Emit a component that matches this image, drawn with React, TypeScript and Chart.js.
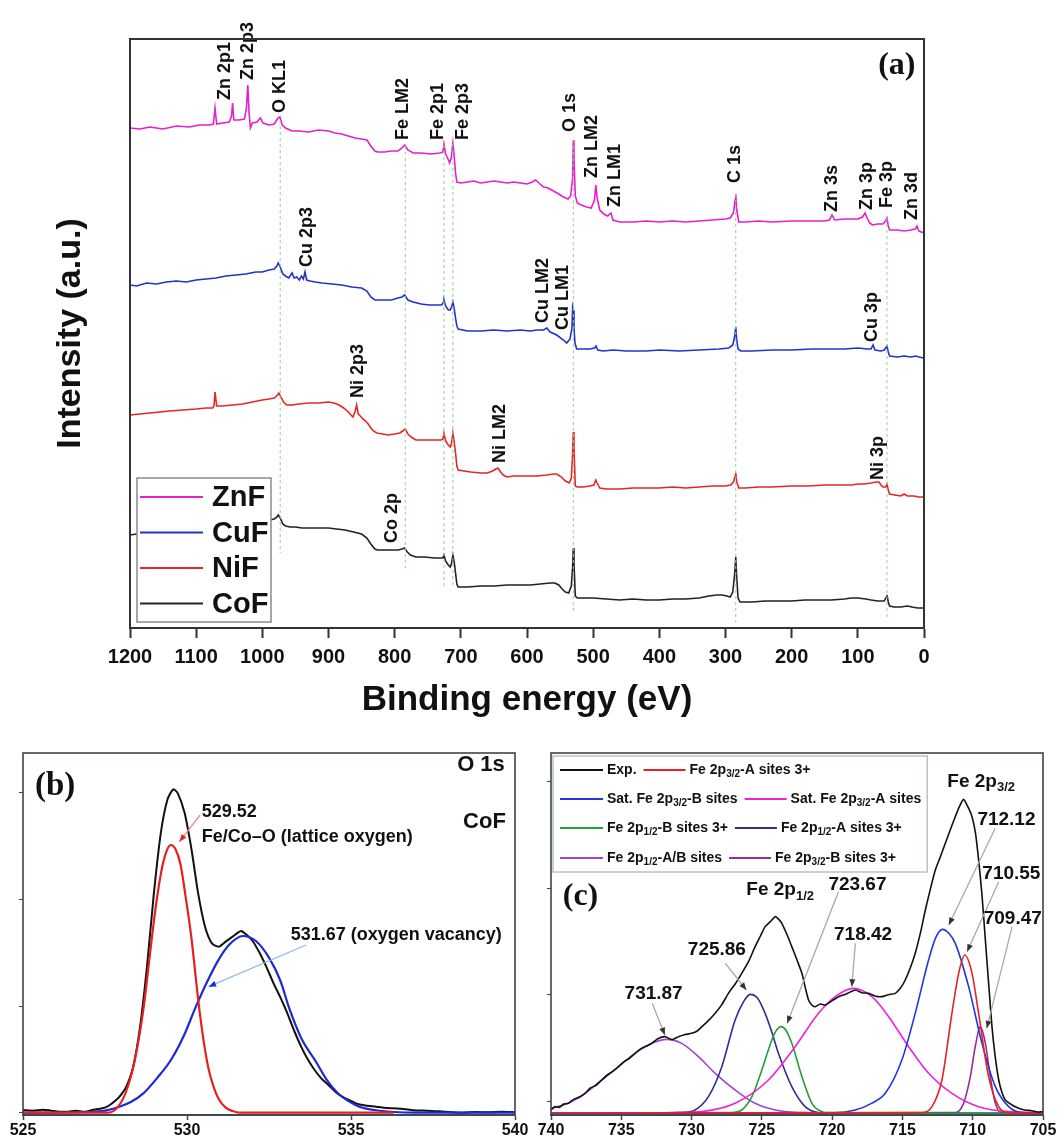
import React, { useEffect, useRef } from 'react';
import { Chart, registerables } from 'chart.js';
Chart.register(...registerables);

const SANS = '"Liberation Sans", Arial, Helvetica, sans-serif';
const SERIF = '"Liberation Serif", "Times New Roman", serif';

// ================= Panel (a): XPS survey =================
const seriesNames = ['ZnF', 'CuF', 'NiF', 'CoF'];
const seriesColors = ['#e61fce', '#2233cc', '#e62626', '#222222'];

const znfE = [1200,1185,1170,1150,1130,1110,1095,1080,1074,1071.5,1069,1060,1050,1046.5,1045,1043,1035,1027,1024,1022,1020,1018,1015,1008,1003,999,990,982,976.5,973.5,970,965,955,945,930,915,900,890,880,870,860,850,842,836,830,826,815,805,795,789,785,780,772,760,745,732,727,725.5,723,720,717,714.5,712,710,708,706,700,690,680,670,660,650,640,630,620,610,600,592,587,582,575,568,560,552,545,538,534,531,530,529,527,524,518,510,503,498,496,494,490,484,478,475,473,470,465,460,440,420,400,380,360,340,320,300,293,288,285.5,284.5,283,280,270,250,230,200,175,150,143,139,135,120,100,93,89,86,82,78,70,62,58,56,54,52,40,30,20,13,10.6,8,4,0];
const znfI = [500,499,501,499,502,501,503,503,504,520,504,505,506,512,525,508,508,509,520,543,515,500,505,506,510,505,503,504,510,511,503,500,497,497,496,498,497,495,494,492,490,489,488,482,477,476,476,477,477,480,483,478,475,475,474,475,476,484,474,470,465,470,485,472,455,446,445,446,447,445,446,447,446,445,446,445,444,446,448,445,441,440,437,434,431,429,432,450,488,470,432,425,423,421,420,428,443,430,418,414,412,414,415,408,407,406,406,407,406,407,406,407,408,409,410,415,428,434,418,406,406,407,406,407,407,407,408,413,408,409,409,411,415,410,405,403,404,404,407,410,402,398,398,397,398,399,402,397,396,395];

const cufE = [1200,1190,1175,1160,1145,1130,1115,1100,1085,1070,1055,1040,1025,1010,1000,990,982,978,976,973,969,965,960,957,955,952,948,944,941,938,935.5,933,928,920,910,895,880,865,850,842,836,830,820,805,795,789,785,780,772,760,748,735,729,726,725.5,723,719,716,713.5,712,710,708,706,704,690,670,650,630,610,595,585,575,570,565,555,545,540,535,532,531,530,529,527.5,525,515,505,498,495.7,493,485,470,450,420,400,370,340,310,295,289,286,284.5,283,281,277,260,230,200,170,140,120,100,85,80,77,74,65,60,56,54,52,40,30,20,12,8,0];
const cufI = [343,342,345,344,346,347,346,348,349,350,352,353,354,356,356,358,359,362,365,361,354,352,350,353,355,350,351,348,352,349,356,348,347,346,345,344,343,341,340,337,331,328,328,328,330,331,333,328,326,324,323,323,323,326,328,322,318,318,322,326,319,310,302,299,297,297,298,297,298,297,298,298,300,296,293,288,285,289,300,321,318,300,285,279,279,279,280,282,278,277,278,277,277,278,277,278,279,280,283,292,301,288,279,277,277,278,278,279,279,279,280,279,279,283,278,277,278,282,276,272,271,272,271,272,271,270];

const nifE = [1200,1185,1170,1155,1140,1120,1100,1085,1075,1073,1071.5,1069,1060,1045,1030,1015,1000,990,982,977,975,972,968,963,955,945,930,915,900,892,884,877,870,866,863,860,857.5,855,852,848,844,840,836,832,827,818,810,800,792,786,784,780,775,768,755,740,730,727,725.5,723,719,716,714,712,710,708,706,704,695,685,670,660,652,647,644,640,636,630,620,610,600,585,570,560,555,548,542,536,533,531,530,529,527,524,515,505,499,496,494,490,480,460,440,420,400,380,360,340,320,300,292,288,285.5,284.5,283,280,270,250,230,200,175,150,125,110,100,90,80,72,68,65,62,58,56,54,52,44,35,30,25,15,8,0];
const nifI = [213,214,215,216,217,218,219,220,220,222,236,222,222,223,224,226,228,229,230,233,235,231,226,223,223,224,225,225,226,225,223,220,216,213,211,216,223,214,212,209,207,204,200,197,195,194,193,194,195,198,199,194,191,188,188,188,188,189,195,187,183,181,185,195,186,175,162,158,157,156,155,155,157,159,160,156,153,151,152,152,152,152,153,154,154,151,147,145,150,175,196,180,142,141,141,142,143,148,145,140,139,139,140,140,140,141,140,141,142,142,143,146,152,155,146,140,140,141,141,142,142,143,143,143,144,144,145,146,146,143,141,141,144,138,134,133,132,134,132,132,131,131];

const cofE = [1200,1190,1175,1160,1145,1130,1115,1100,1085,1070,1055,1040,1025,1010,1000,990,982,978,976,973,969,965,958,950,940,925,910,900,888,875,862,850,842,836,830,826,815,805,795,789,785,781,776,768,755,740,730,727,725.5,723,719,716,714,712,710,708,706,704,690,670,650,630,610,595,580,565,558,552,547,542,537,533,531,530,529,527,524,515,500,480,460,440,420,400,380,360,340,325,313,305,298,293,289,286,284.5,283,281,278,260,240,220,200,180,160,140,120,110,100,88,80,70,60,57,56,54,52,45,35,25,18,10,0];
const cofI = [93,94,95,96,97,98,99,100,101,102,103,104,105,106,107,108,109,111,113,110,104,102,101,101,100,100,100,100,99,98,96,94,90,84,79,78,78,78,78,79,80,76,73,71,71,70,70,70,73,67,63,61,65,73,66,55,44,41,41,42,42,43,43,43,44,45,45,43,39,36,35,42,62,80,65,32,30,30,30,29,28,29,28,28,29,29,30,32,33,33,32,31,36,55,71,50,30,26,26,27,27,27,28,28,28,29,30,30,29,28,27,27,31,33,26,22,21,21,22,21,20,20];

// dotted guide lines (energy, top, bottom)
const guideE = [973, 784, 725.5, 712, 530, 284.5, 56];
const guideTop = [508, 482, 483, 484, 488, 434, 410];
const guideBot = [75, 60, 40, 40, 15, 6, 10];

// peak labels (energy, intensity at bottom of rotated text)
const peakText = ['Zn 2p1','Zn 2p3','O KL1','Fe LM2','Fe 2p1','Fe 2p3','O 1s','Zn LM2','Zn LM1','C 1s','Zn 3s','Zn 3p','Fe 3p','Zn 3d','Cu 2p3','Cu LM2','Cu LM1','Cu 3p','Ni 2p3','Ni LM2','Ni 3p','Co 2p'];
const peakE = [1056.4,1021.7,973.3,787.4,734.5,696.8,535,501.8,467,285.7,139,86.2,56,18.2,932.5,575.8,545.6,78.6,855.4,640.8,69.6,804];
const peakI = [528,548,515,488,488,488,496,450,421,445,416,418,420,408,361,305,298,286,230,165,148,85];

const surveyTicks = { min: 0, max: 1200, step: 100 };

// ================= Panel (b): O 1s =================
const bExpE = [525,525.3,525.6,525.86,526.1,526.38,526.6,526.9,527.11,527.42,527.6,527.84,528.0,528.15,528.36,528.57,528.78,528.99,529.2,529.4,529.58,529.72,529.93,530.14,530.34,530.55,530.76,530.97,531.18,531.39,531.55,531.65,531.8,532.0,532.22,532.43,532.64,532.85,533.06,533.27,533.48,533.68,533.89,534.1,534.31,534.52,534.73,534.94,535.15,535.4,535.77,536.0,536.29,536.6,536.9,537.34,537.7,538.0,538.38,538.8,539.2,539.6,540];
const bExpI = [0.8,0.6,0.9,0.6,0.3,0.3,0.6,0.3,0.8,1.3,2.0,3.8,5.5,7.8,13.8,25.8,43.8,65.8,83.8,93.8,97,95.8,89.8,78.8,65.8,55.8,50.8,49.8,51.3,52.8,54.0,54.5,53.5,51.5,47.8,43.5,38.8,34.5,29.8,24.5,19.8,16.0,12.8,10.2,8.3,6.3,4.8,3.8,2.8,2.2,1.8,1.5,1.3,1.1,0.7,0.6,0.4,0.2,0.0,0.2,0.1,0.3,0.1];
const bLatE = [525,527.6,527.9,528.15,528.41,528.67,528.85,529.05,529.25,529.4,529.51,529.65,529.8,529.97,530.14,530.34,530.5,530.66,530.82,530.97,531.18,531.39,531.6,536.3];
const bLatI = [0,0,1.8,6.5,15.8,31,45.8,62,74,79,80.3,79,74.5,64,52,34,22,13,7.5,4,1.5,0.5,0,0];
const bVacE = [525,527,527.5,527.94,528.3,528.67,529.1,529.51,529.9,530.27,530.6,530.97,531.3,531.7,532.1,532.5,532.85,533.1,533.5,533.9,534.25,534.6,534.95,535.25,535.7,536.3,537,540];
const bVacI = [0,0.2,0.6,1.8,3.3,5.8,10.5,15.8,23,31.8,39,46,50.5,53,51.5,46.5,39.5,31.8,22,15.8,10,5.8,3.3,1.8,0.8,0.2,0,0];

// ================= Panel (c): Fe 2p =================
const cExpE = [740,739.72,739.4,739.1,738.77,738.4,738.0,737.58,737.2,736.8,736.39,736.0,735.6,735.2,734.8,734.4,734.02,733.6,733.2,732.83,732.4,731.88,731.4,730.94,730.5,729.99,729.6,729.27,728.8,728.32,727.85,727.38,726.9,726.43,725.95,725.48,725.1,724.77,724.4,724.05,723.8,723.58,723.2,722.87,722.5,722.15,721.9,721.68,721.45,721.21,720.85,720.49,720.0,719.54,719.0,718.36,717.9,717.41,716.9,716.46,716.0,715.51,715.15,714.8,714.45,714.09,713.7,713.37,713.0,712.66,712.3,711.95,711.6,711.24,710.95,710.65,710.35,710.05,709.8,709.58,709.35,709.1,708.85,708.63,708.4,708.15,707.9,707.68,707.2,706.73,706.3,705.8,705.4,705];
const cExpI = [1,2,1.8,2.8,3,4.2,4.8,6,7.6,8.4,10,11.5,12.6,14,15.5,16.6,18,19.4,20.2,21,22.4,23,22.1,23,23.6,24,24.7,26,27.8,30,32.6,36,38.8,42,45.5,50,53.2,56,57.5,59,58.2,57,53.5,50,46,42,37.5,34,32.5,32,32.8,32.5,33.8,35,35.8,37,36.2,36,35.1,35,35.6,36,37.5,40,43.5,48,54.5,61,67.5,73,77,81,85,89,92,94.2,92,89,84,76,66,52,38,26,17,10,6,4,2.5,1.5,1.0,0.8,0.4,0.5];

const cA3E = [740,713.61,712.9,712.19,711.48,711.0,710.57,710.05,709.58,708.87,708.15,707.44,705];
const cA3I = [0,0.2,2,10,30,42,47.5,42,30,11,2,0.2,0];
const cSatBE = [740,719.78,718.36,717.2,716.22,715.04,714.09,713.14,712.6,712.14,711.7,711.24,710.29,709.34,708.39,707.44,706.5,705];
const cSatBI = [0,0.2,1,3,6,16,30,46,53,55.2,54,51,38,21,8,2,0.2,0];
const cSatAE = [740,733,731,729.27,726.9,724.53,722.63,720.97,719.78,718.48,717.17,715.98,714.56,713.14,711.48,709.58,707.44,705];
const cSatAI = [0,0,0.2,0.5,3,10,20,30,35,37.5,35,29,20,12,6,2,0.5,0.2];
const cB12E = [740,727.2,726.43,725.71,725.0,724.29,723.95,723.63,723.3,722.87,722.15,721.44,720.73,720,705];
const cB12I = [0,0.2,1,5,13,22,25,26,25,21,11,3,0.5,0,0];
const cA12E = [740,730.5,729.75,728.8,727.85,726.9,726.3,725.83,725.3,724.77,724.3,723.82,722.87,721.92,720.97,720,705];
const cA12I = [0,0.3,1,5,14,28,33.5,35.7,34.5,30,24.5,18,8,2,0.2,0,0];
const cABE = [740,738.77,737.58,736.39,735.2,734.02,732.83,731.77,730.7,729.51,728.32,726.9,725.48,724.05,722.15,719.78,705];
const cABI = [1.5,3,6,10,14,18,21,22.2,21,17,12,7,3,1,0.2,0,0];
const cB3E = [740,711.24,710.65,710.17,709.82,709.46,709.1,708.75,708.39,707.92,705];
const cB3I = [0,0.2,3,11,20,26,21,11,3,0.2,0];

const cNames = ['Exp.', 'Fe 2p_{3/2}-A sites 3+', 'Sat. Fe 2p_{3/2}-B sites', 'Sat. Fe 2p_{3/2}-A sites', 'Fe 2p_{1/2}-B sites 3+', 'Fe 2p_{1/2}-A sites 3+', 'Fe 2p_{1/2}-A/B sites', 'Fe 2p_{3/2}-B sites 3+'];
const cColors = ['#111111', '#e62222', '#2236e0', '#ee22d8', '#22a033', '#2e3090', '#a244d6', '#9a2b9a'];

// peak value labels (c)
const cValText = ['712.12', '710.55', '709.47', '723.67', '718.42', '725.86', '731.87'];
const cValE = [707.6, 707.25, 707.15, 718.2, 717.8, 728.2, 732.7];
const cValI = [88, 72, 58.5, 68.5, 53.5, 49, 36];
const cArrFromE = [708.4, 708.15, 707.2, 719.55, 718.35, 727.6, 732.8];
const cArrFromI = [85.5, 69.5, 56, 66.5, 51, 45, 33];
const cArrToE = [711.7, 710.4, 709.0, 723.2, 718.6, 726.1, 731.9];
const cArrToI = [56.5, 48.5, 25.5, 27, 38, 37, 23.5];

// ================= helpers =================
const pts = (xs: number[], ys: number[]) => xs.slice(0, Math.min(xs.length, ys.length)).map((x, i) => ({ x, y: ys[i] }));
const plainTick = (v: any) => String(v);

function parseRich(s: string) {
  const parts: { t: string; sub: boolean }[] = [];
  const re = /_\{([^}]*)\}/g;
  let last = 0;
  let m: RegExpExecArray | null;
  while ((m = re.exec(s))) {
    if (m.index > last) parts.push({ t: s.slice(last, m.index), sub: false });
    parts.push({ t: m[1], sub: true });
    last = re.lastIndex;
  }
  if (last < s.length) parts.push({ t: s.slice(last), sub: false });
  return parts;
}
function richWidth(ctx: CanvasRenderingContext2D, s: string, size: number) {
  let w = 0;
  for (const p of parseRich(s)) {
    ctx.font = `bold ${p.sub ? Math.round(size * 0.68) : size}px ${SANS}`;
    w += ctx.measureText(p.t).width;
  }
  return w;
}
function drawRich(ctx: CanvasRenderingContext2D, s: string, x: number, y: number, size: number, align: string, color: string) {
  const w = richWidth(ctx, s, size);
  let cx = align === 'left' ? x : align === 'center' ? x - w / 2 : x - w;
  ctx.fillStyle = color;
  ctx.textAlign = 'left';
  ctx.textBaseline = 'middle';
  for (const p of parseRich(s)) {
    const sz = p.sub ? Math.round(size * 0.68) : size;
    ctx.font = `bold ${sz}px ${SANS}`;
    ctx.fillText(p.t, cx, p.sub ? y + size * 0.32 : y);
    cx += ctx.measureText(p.t).width;
  }
  return w;
}
function arrow(ctx: CanvasRenderingContext2D, x1: number, y1: number, x2: number, y2: number, lineColor: string, headColor: string) {
  ctx.strokeStyle = lineColor;
  ctx.lineWidth = 1.3;
  ctx.beginPath();
  ctx.moveTo(x1, y1);
  ctx.lineTo(x2, y2);
  ctx.stroke();
  const a = Math.atan2(y2 - y1, x2 - x1);
  const L = 8;
  ctx.fillStyle = headColor;
  ctx.beginPath();
  ctx.moveTo(x2, y2);
  ctx.lineTo(x2 - L * Math.cos(a - 0.38), y2 - L * Math.sin(a - 0.38));
  ctx.lineTo(x2 - L * Math.cos(a + 0.38), y2 - L * Math.sin(a + 0.38));
  ctx.closePath();
  ctx.fill();
}
function frame(ctx: CanvasRenderingContext2D, ca: any, color: string, w: number) {
  ctx.strokeStyle = color;
  ctx.lineWidth = w;
  ctx.strokeRect(ca.left, ca.top, ca.right - ca.left, ca.bottom - ca.top);
}

const lineDs = (label: string, data: any[], color: string, width: number, extra: any = {}) => ({
  label, data, borderColor: color, backgroundColor: color, borderWidth: width,
  pointRadius: 0, fill: false, tension: 0, ...extra,
});

// ================= chart builders =================
function makeSurvey(canvas: HTMLCanvasElement) {
  const datasets: any[] = [];
  guideE.forEach((e, i) => {
    datasets.push(lineDs('guide', [{ x: e, y: guideTop[i] }, { x: e, y: guideBot[i] }], '#8fd08f', 1, { borderDash: [3, 3] }));
  });
  const series = [pts(znfE, znfI), pts(cufE, cufI), pts(nifE, nifI), pts(cofE, cofI)];
  series.forEach((d, i) => datasets.push(lineDs(seriesNames[i], d, seriesColors[i], 1.6)));

  const decor = {
    id: 'surveyDecor',
    afterDatasetsDraw(chart: any) {
      const { ctx, chartArea: ca, scales } = chart;
      const x = scales.x, y = scales.y;
      ctx.save();
      ctx.fillStyle = '#111';
      ctx.font = `bold 18px ${SANS}`;
      ctx.textAlign = 'left';
      ctx.textBaseline = 'middle';
      peakText.forEach((t, i) => {
        ctx.save();
        ctx.translate(x.getPixelForValue(peakE[i]), y.getPixelForValue(peakI[i]));
        ctx.rotate(-Math.PI / 2);
        ctx.fillText(t, 0, 0);
        ctx.restore();
      });
      const bl = ca.left + 7, bt = ca.bottom - 150, bw = 134, bh = 144;
      ctx.fillStyle = '#fff';
      ctx.fillRect(bl, bt, bw, bh);
      ctx.strokeStyle = '#8a8a8a';
      ctx.lineWidth = 1.5;
      ctx.strokeRect(bl, bt, bw, bh);
      seriesNames.forEach((n, i) => {
        const ry = bt + 19 + i * 35.5;
        ctx.strokeStyle = seriesColors[i];
        ctx.lineWidth = 2;
        ctx.beginPath();
        ctx.moveTo(bl + 3, ry);
        ctx.lineTo(bl + 66, ry);
        ctx.stroke();
        ctx.fillStyle = '#111';
        ctx.font = `bold 29px ${SANS}`;
        ctx.textAlign = 'left';
        ctx.textBaseline = 'middle';
        ctx.fillText(n, bl + 75, ry + 1);
      });
      frame(ctx, ca, '#333', 2);
      ctx.fillStyle = '#111';
      ctx.font = `bold 32px ${SERIF}`;
      ctx.textAlign = 'center';
      ctx.textBaseline = 'middle';
      ctx.fillText('(a)', x.getPixelForValue(41), y.getPixelForValue(562));
      ctx.restore();
    },
  };

  return new Chart(canvas, {
    type: 'line',
    data: { datasets },
    options: {
      animation: false, responsive: false, maintainAspectRatio: false,
      layout: { padding: { left: 0, right: 138, top: 39, bottom: 0 } },
      plugins: { legend: { display: false }, tooltip: { enabled: false } },
      scales: {
        x: {
          type: 'linear', reverse: true, min: surveyTicks.min, max: surveyTicks.max,
          ticks: { stepSize: surveyTicks.step, autoSkip: false, maxRotation: 0, padding: 7, color: '#111', font: { family: SANS, size: 20, weight: 'bold' }, callback: plainTick },
          grid: { display: true, drawOnChartArea: false, drawTicks: true, tickLength: 10, tickWidth: 2, tickColor: '#333' },
          border: { display: true, color: '#333', width: 2 },
          title: { display: true, text: 'Binding energy (eV)', color: '#111', font: { family: SANS, size: 35, weight: 'bold' }, padding: { top: 0, bottom: 19 } },
          afterFit: (s: any) => { s.height = 112; },
        },
        y: {
          type: 'linear', min: 0, max: 589,
          ticks: { display: false },
          grid: { display: false },
          border: { display: false },
          title: { display: true, text: 'Intensity (a.u.)', color: '#111', font: { family: SANS, size: 34, weight: 'bold' }, padding: { top: 50, bottom: 0 } },
          afterFit: (s: any) => { s.width = 130; },
        },
      },
    } as any,
    plugins: [decor],
  });
}

function makeO1s(canvas: HTMLCanvasElement) {
  const datasets: any[] = [
    lineDs('Fe/Co–O', pts(bLatE, bLatI), '#e42020', 2.2, { cubicInterpolationMode: 'monotone' }),
    lineDs('vacancy', pts(bVacE, bVacI), '#1a2ad4', 2.2, { cubicInterpolationMode: 'monotone' }),
    lineDs('Exp.', pts(bExpE, bExpI), '#111111', 2, { tension: 0.25 }),
  ];
  const decor = {
    id: 'o1sDecor',
    afterDatasetsDraw(chart: any) {
      const { ctx, chartArea: ca, scales } = chart;
      const x = scales.x, y = scales.y;
      const X = (v: number) => x.getPixelForValue(v), Y = (v: number) => y.getPixelForValue(v);
      ctx.save();
      arrow(ctx, X(530.4), Y(89.3), X(529.77), Y(81.3), '#f08a8a', '#e42020');
      arrow(ctx, X(533.63), Y(50.3), X(530.66), Y(37.8), '#8cbbe8', '#1a2ad4');
      drawRich(ctx, '529.52', X(530.45), Y(90.3), 18, 'left', '#111');
      drawRich(ctx, 'Fe/Co–O (lattice oxygen)', X(530.45), Y(82.6), 18, 'left', '#111');
      drawRich(ctx, '531.67 (oxygen vacancy)', X(533.16), Y(53.3), 18, 'left', '#111');
      drawRich(ctx, 'O 1s', X(539.69), Y(104.3), 22, 'right', '#111');
      drawRich(ctx, 'CoF', X(539.72), Y(87.3), 22, 'right', '#111');
      ctx.fillStyle = '#111';
      ctx.font = `bold 33px ${SERIF}`;
      ctx.textAlign = 'center';
      ctx.textBaseline = 'middle';
      ctx.fillText('(b)', X(525.98), Y(97.8));
      frame(ctx, ca, '#3d4450', 1.6);
      ctx.restore();
    },
  };
  return new Chart(canvas, {
    type: 'line',
    data: { datasets },
    options: {
      animation: false, responsive: false, maintainAspectRatio: false,
      layout: { padding: { left: 0, right: 20, top: 13, bottom: 0 } },
      plugins: { legend: { display: false }, tooltip: { enabled: false } },
      scales: {
        x: {
          type: 'linear', min: 525, max: 540,
          ticks: { stepSize: 5, autoSkip: false, maxRotation: 0, padding: 1, color: '#111', font: { family: SANS, size: 16, weight: 'bold' }, callback: plainTick },
          grid: { display: true, drawOnChartArea: false, drawTicks: true, tickLength: 5, tickWidth: 1.5, tickColor: '#444' },
          border: { display: true, color: '#555', width: 2 },
          afterFit: (s: any) => { s.height = 30; },
        },
        y: {
          type: 'linear', min: -0.7, max: 107.9,
          ticks: { display: false, stepSize: 32, includeBounds: false },
          grid: { display: true, drawOnChartArea: false, drawTicks: true, tickLength: 4, tickColor: '#444' },
          border: { display: false },
          afterFit: (s: any) => { s.width = 23; },
        },
      },
    } as any,
    plugins: [decor],
  });
}

function makeFe2p(canvas: HTMLCanvasElement) {
  const comps = [pts(cA3E, cA3I), pts(cSatBE, cSatBI), pts(cSatAE, cSatAI), pts(cB12E, cB12I), pts(cA12E, cA12I), pts(cABE, cABI), pts(cB3E, cB3I)];
  const datasets: any[] = [lineDs(cNames[0], pts(cExpE, cExpI), cColors[0], 1.6, { tension: 0.2 })];
  comps.forEach((d, i) => datasets.push(lineDs(cNames[i + 1], d, cColors[i + 1], 1.6, { cubicInterpolationMode: 'monotone' })));

  const decor = {
    id: 'fe2pDecor',
    afterDatasetsDraw(chart: any) {
      const { ctx, chartArea: ca, scales } = chart;
      const x = scales.x, y = scales.y;
      const X = (v: number) => x.getPixelForValue(v), Y = (v: number) => y.getPixelForValue(v);
      ctx.save();
      cValText.forEach((t, i) => {
        arrow(ctx, X(cArrFromE[i]), Y(cArrFromI[i]), X(cArrToE[i]), Y(cArrToI[i]), '#a8a8a8', '#333');
      });
      cValText.forEach((t, i) => drawRich(ctx, t, X(cValE[i]), Y(cValI[i]), 19, 'center', '#111'));
      drawRich(ctx, 'Fe 2p_{3/2}', X(709.4), Y(99.5), 19, 'center', '#111');
      drawRich(ctx, 'Fe 2p_{1/2}', X(723.7), Y(67), 19, 'center', '#111');
      ctx.fillStyle = '#111';
      ctx.font = `bold 32px ${SERIF}`;
      ctx.textAlign = 'center';
      ctx.textBaseline = 'middle';
      ctx.fillText('(c)', X(737.9), Y(65));
      const bl = ca.left + 2, bt = ca.top + 3, bh = 116;
      const rowY = [14, 43, 72, 102];
      const size = 14;
      let maxEnd = 0;
      for (let r = 0; r < 4; r++) {
        const w1 = richWidth(ctx, cNames[r * 2], size);
        const w2 = richWidth(ctx, cNames[r * 2 + 1], size);
        maxEnd = Math.max(maxEnd, 54 + w1 + 7 + 42 + 4 + w2);
      }
      const bw = maxEnd + 6;
      ctx.fillStyle = '#fff';
      ctx.fillRect(bl, bt, bw, bh);
      ctx.strokeStyle = '#a9b8a9';
      ctx.lineWidth = 1.2;
      ctx.strokeRect(bl, bt, bw, bh);
      for (let r = 0; r < 4; r++) {
        const ry = bt + rowY[r];
        let cx = bl + 7;
        for (let c = 0; c < 2; c++) {
          const k = r * 2 + c;
          ctx.strokeStyle = cColors[k];
          ctx.lineWidth = 1.8;
          ctx.beginPath();
          ctx.moveTo(cx, ry);
          ctx.lineTo(cx + (c === 0 ? 43 : 42), ry);
          ctx.stroke();
          cx += (c === 0 ? 47 : 46);
          const w = drawRich(ctx, cNames[k], cx, ry, size, 'left', '#111');
          cx += w + 7;
        }
      }
      frame(ctx, ca, '#3d4450', 1.6);
      ctx.restore();
    },
  };
  return new Chart(canvas, {
    type: 'line',
    data: { datasets },
    options: {
      animation: false, responsive: false, maintainAspectRatio: false,
      layout: { padding: { left: 0, right: 19, top: 13, bottom: 0 } },
      plugins: { legend: { display: false }, tooltip: { enabled: false } },
      scales: {
        x: {
          type: 'linear', reverse: true, min: 705, max: 740,
          ticks: { stepSize: 5, autoSkip: false, maxRotation: 0, padding: 1, color: '#111', font: { family: SANS, size: 16, weight: 'bold' }, callback: plainTick },
          grid: { display: true, drawOnChartArea: false, drawTicks: true, tickLength: 5, tickWidth: 1.5, tickColor: '#444' },
          border: { display: true, color: '#555', width: 2 },
          afterFit: (s: any) => { s.height = 30; },
        },
        y: {
          type: 'linear', min: -0.5, max: 108.1,
          ticks: { display: false },
          grid: { display: true, drawOnChartArea: false, drawTicks: true, tickLength: 4, tickColor: '#444' },
          border: { display: false },
          afterBuildTicks: (s: any) => { s.ticks = [3.5, 35.5, 67.5, 99.5].map((v) => ({ value: v })); },
          afterFit: (s: any) => { s.width = 16; },
        },
      },
    } as any,
    plugins: [decor],
  });
}

export default function App() {
  const aRef = useRef<HTMLCanvasElement>(null);
  const bRef = useRef<HTMLCanvasElement>(null);
  const cRef = useRef<HTMLCanvasElement>(null);
  useEffect(() => {
    const charts = [makeSurvey(aRef.current!), makeO1s(bRef.current!), makeFe2p(cRef.current!)];
    return () => charts.forEach((c) => c.destroy());
  }, []);
  return (
    <div style={{ position: 'absolute', left: 0, top: 0, width: 1062, height: 1145, background: '#fff', overflow: 'hidden' }}>
      <canvas ref={aRef} width={1062} height={740} style={{ position: 'absolute', left: 0, top: 0, width: 1062, height: 740 }} />
      <canvas ref={bRef} width={535} height={405} style={{ position: 'absolute', left: 0, top: 740, width: 535, height: 405 }} />
      <canvas ref={cRef} width={527} height={405} style={{ position: 'absolute', left: 535, top: 740, width: 527, height: 405 }} />
    </div>
  );
}
